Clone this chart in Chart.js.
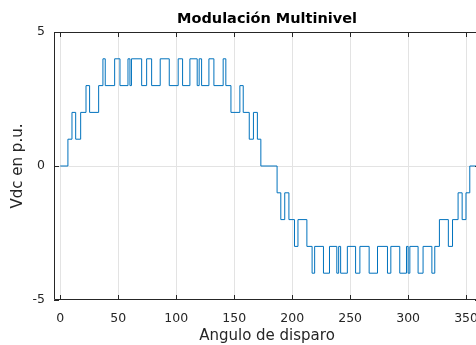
<!DOCTYPE html>
<html>
<head>
<meta charset="utf-8">
<script src="https://cdn.jsdelivr.net/npm/chart.js@4"></script>
<style>
  html, body { margin: 0; padding: 0; background: #fff; overflow: hidden; }
  #wrap { width: 496px; height: 345px; }
</style>
</head>
<body>
<div id="wrap"><canvas id="multinivel"></canvas></div>
<script>
// switching angles (deg) and the level the output takes from that angle on
const angles = [0, 6.6, 10.1, 13.3, 17.6, 22.2, 25.3, 33.1, 36.8, 38.8, 46.9, 51.5,
  58.4, 60.1, 61.4, 70.2, 74.5, 78.8, 86.2, 94.0, 101.7, 105.5, 111.8, 118.1,
  119.8, 121.9, 128.2, 132.5, 140.5, 142.8, 147.2, 154.9, 157.8, 163.0, 166.6,
  170.0, 173.0, 187.0, 190.2, 193.6, 197.2, 202.0, 205.0, 212.7, 217.2, 219.4,
  227.0, 232.2, 238.5, 240.1, 241.8, 247.6, 254.7, 258.4, 266.4, 273.6, 282.2,
  285.1, 292.8, 298.6, 300.0, 301.5, 308.6, 312.9, 320.5, 323.0, 327.0, 334.7,
  338.3, 343.1, 346.6, 349.9, 353.2, 360];
const levels = [0, 1, 2, 1, 2, 3, 2, 3, 4, 3, 4, 3,
  4, 3, 4, 3, 4, 3, 4, 3, 4, 3, 4, 3,
  4, 3, 4, 3, 4, 3, 2, 3, 2, 1, 2,
  1, 0, -1, -2, -1, -2, -3, -2, -3, -4, -3,
  -4, -3, -4, -3, -4, -3, -4, -3, -4, -3, -4,
  -3, -4, -3, -4, -3, -4, -3, -4, -3, -2, -3,
  -2, -1, -2, -1, 0, 0];
const xTicks = [0, 50, 100, 150, 200, 250, 300, 350];
const yTicks = [-5, 0, 5];

const axisColor = '#262626';
const gridColor = '#e3e3e3';

// MATLAB-like box: top/right borders and ticks pointing inwards
const matlabBox = {
  id: 'matlabBox',
  afterDraw(chart) {
    const {ctx, chartArea: a, scales: {x, y}} = chart;
    ctx.save();
    ctx.strokeStyle = axisColor;
    ctx.lineWidth = 1;
    ctx.beginPath();
    ctx.rect(a.left + 0.5, a.top + 0.5, a.right - a.left - 1, a.bottom - a.top - 1);
    xTicks.forEach(v => {
      const px = Math.round(x.getPixelForValue(v)) + 0.5;
      ctx.moveTo(px, a.bottom);
      ctx.lineTo(px, a.bottom - 5);
      ctx.moveTo(px, a.top);
      ctx.lineTo(px, a.top + 5);
    });
    yTicks.forEach(v => {
      const py = Math.round(y.getPixelForValue(v)) + 0.5;
      ctx.moveTo(a.left, py);
      ctx.lineTo(a.left + 5, py);
      ctx.moveTo(a.right, py);
      ctx.lineTo(a.right - 5, py);
    });
    ctx.stroke();
    ctx.restore();
  }
};

Chart.defaults.font.family = '"DejaVu Sans", sans-serif';
Chart.defaults.color = axisColor;

new Chart(document.getElementById('multinivel'), {
  type: 'line',
  data: {
    datasets: [{
      label: 'Vdc',
      data: angles.map((a, i) => ({x: a, y: levels[i]})),
      stepped: 'before',
      borderColor: '#0072BD',
      borderWidth: 1,
      pointRadius: 0,
      fill: false
    }]
  },
  options: {
    responsive: true,
    maintainAspectRatio: false,
    animation: false,
    layout: { padding: { left: 0, right: 16, top: 0, bottom: 0 } },
    plugins: {
      legend: { display: false },
      tooltip: { enabled: false },
      title: {
        display: true,
        fullSize: false,
        text: 'Modulación Multinivel',
        color: '#000',
        font: { size: 14.5, weight: 'bold' },
        padding: { top: 10.5, bottom: 4.1 }
      }
    },
    scales: {
      x: {
        type: 'linear',
        min: -5.4,
        max: 362,
        afterBuildTicks: s => { s.ticks = xTicks.map(v => ({value: v})); },
        afterFit: s => { s.height = 45; },
        grid: { color: gridColor, drawTicks: false },
        border: { display: false },
        ticks: { font: { size: 12.5 }, padding: 11, maxRotation: 0 },
        title: {
          display: true,
          text: 'Angulo de disparo',
          font: { size: 15 },
          padding: { top: 0, bottom: 0 }
        }
      },
      y: {
        min: -5,
        max: 5,
        afterBuildTicks: s => { s.ticks = yTicks.map(v => ({value: v})); },
        afterFit: s => { s.width = 54; },
        grid: { color: ctx => ctx.tick && ctx.tick.value === 0 ? gridColor : 'rgba(0,0,0,0)', drawTicks: false },
        border: { display: false },
        ticks: { font: { size: 12.5 }, padding: 9 },
        title: {
          display: true,
          text: 'Vdc en p.u.',
          font: { size: 15 },
          padding: { top: 9.5, bottom: 0 }
        }
      }
    }
  },
  plugins: [matlabBox]
});
</script>
</body>
</html>
